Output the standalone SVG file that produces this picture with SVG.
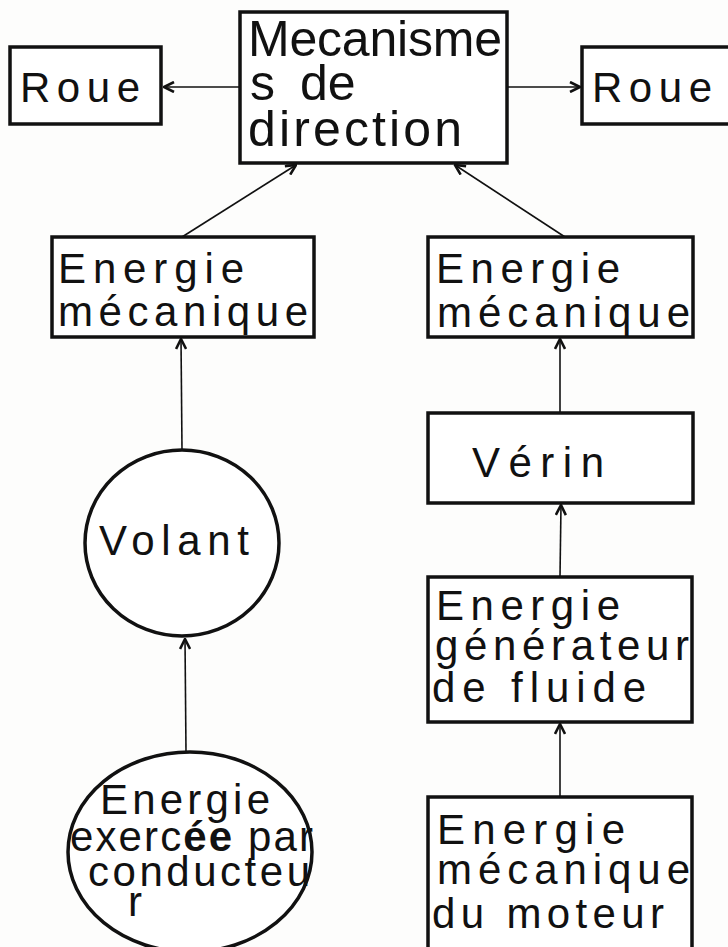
<svg xmlns="http://www.w3.org/2000/svg" width="728" height="947" viewBox="0 0 728 947">
  <style>
    .box { fill: #ffffff; stroke: #111111; stroke-width: 3.5; }
    .edge { fill: none; stroke: #111111; stroke-width: 1.6; marker-end: url(#arrow); }
    .lbl { font-family: "Liberation Sans", "DejaVu Sans", sans-serif; fill: #111111; font-size: 42px; }
    .big { font-size: 50px; }
  </style>
  <defs>
    <marker id="arrow" viewBox="0 0 12 12" refX="11" refY="6" markerWidth="12" markerHeight="12" markerUnits="userSpaceOnUse" orient="auto">
      <path d="M1,1 L11,6 L1,11" fill="none" stroke="#111111" stroke-width="2.6"/>
    </marker>
  </defs>
  <rect x="0" y="0" width="728" height="947" fill="#fdfdfc"/>

  <g id="connectors">
    <line class="edge" x1="240" y1="87" x2="164" y2="87"/>
    <line class="edge" x1="507" y1="87" x2="580" y2="87"/>
    <line class="edge" x1="182" y1="237" x2="296" y2="165"/>
    <line class="edge" x1="565" y1="237" x2="455" y2="165"/>
    <line class="edge" x1="182" y1="450" x2="181" y2="339"/>
    <line class="edge" x1="560" y1="413" x2="560" y2="339"/>
    <line class="edge" x1="560" y1="577" x2="561" y2="505"/>
    <line class="edge" x1="560" y1="797" x2="560" y2="724"/>
    <line class="edge" x1="186" y1="752" x2="185" y2="639"/>
  </g>

  <g id="roue-gauche">
    <rect class="box" x="10" y="47" width="151" height="77"/>
    <text class="lbl" x="20" y="102" font-size="44" textLength="120" lengthAdjust="spacing">Roue</text>
  </g>

  <g id="mecanisme">
    <rect class="box" x="240" y="12" width="267" height="151"/>
    <text class="lbl big" x="248" y="56" textLength="254" lengthAdjust="spacing">Mecanisme</text>
    <text class="lbl big" y="100"><tspan x="250">s</tspan><tspan x="300">de</tspan></text>
    <text class="lbl big" x="248" y="146" textLength="214" lengthAdjust="spacing">direction</text>
  </g>

  <g id="roue-droite">
    <rect class="box" x="582" y="47" width="160" height="77"/>
    <text class="lbl" x="592" y="102" font-size="44" textLength="120" lengthAdjust="spacing">Roue</text>
  </g>

  <g id="energie-mecanique-gauche">
    <rect class="box" x="52" y="237" width="262" height="100"/>
    <text class="lbl" x="58" y="283" textLength="186" lengthAdjust="spacing">Energie</text>
    <text class="lbl" x="58" y="326" textLength="250" lengthAdjust="spacing">mécanique</text>
  </g>

  <g id="energie-mecanique-droite">
    <rect class="box" x="428" y="237" width="265" height="100"/>
    <text class="lbl" x="436" y="283" textLength="184" lengthAdjust="spacing">Energie</text>
    <text class="lbl" x="437" y="327" textLength="253" lengthAdjust="spacing">mécanique</text>
  </g>

  <g id="volant">
    <ellipse class="box" cx="182" cy="543" rx="97" ry="93"/>
    <text class="lbl" x="99" y="555" textLength="150" lengthAdjust="spacing">Volant</text>
  </g>

  <g id="verin">
    <rect class="box" x="428" y="413" width="265" height="90"/>
    <text class="lbl" x="472" y="477" textLength="132" lengthAdjust="spacing">Vérin</text>
  </g>

  <g id="generateur-fluide">
    <rect class="box" x="428" y="577" width="264" height="145"/>
    <text class="lbl" x="436" y="620" textLength="184" lengthAdjust="spacing">Energie</text>
    <text class="lbl" x="435" y="660" textLength="254" lengthAdjust="spacing">générateur</text>
    <text class="lbl" x="432" y="702" textLength="214" lengthAdjust="spacing">de fluide</text>
  </g>

  <g id="energie-moteur">
    <rect class="box" x="428" y="797" width="264" height="152"/>
    <text class="lbl" x="437" y="844" textLength="188" lengthAdjust="spacing">Energie</text>
    <text class="lbl" x="437" y="884" textLength="253" lengthAdjust="spacing">mécanique</text>
    <text class="lbl" x="432" y="928" textLength="232" lengthAdjust="spacing">du moteur</text>
  </g>

  <g id="energie-conducteur">
    <ellipse class="box" cx="190" cy="852" rx="122" ry="100"/>
    <text class="lbl" x="100" y="814" font-size="38" textLength="170" lengthAdjust="spacing">Energie</text>
    <text class="lbl" x="70" y="851" font-size="33" textLength="243" lengthAdjust="spacing">exerc<tspan font-weight="bold">ée</tspan> par</text>
    <text class="lbl" x="88" y="886" font-size="33" textLength="222" lengthAdjust="spacing">conducteu</text>
    <text class="lbl" x="128" y="916" font-size="32">r</text>
  </g>
</svg>
